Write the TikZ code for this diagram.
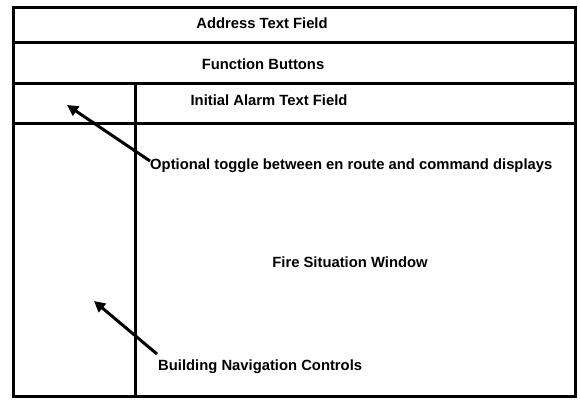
\documentclass[tikz,border=0pt]{standalone}
\usepackage{fontspec}
\setmainfont{Liberation Sans}
\usetikzlibrary{arrows.meta}
\begin{document}
\begin{tikzpicture}[x=1pt,y=-1pt,
  frame/.style={line width=3pt},
  lbl/.style={font=\bfseries\fontsize{14.8}{16}\selectfont, inner sep=0pt},
  pointer/.style={line width=3pt, -{Triangle[length=11pt,width=11pt]}}]
  \useasboundingbox (0,0) rectangle (580,399);
  % screen layout
  \draw[frame] (13,7) rectangle (575,396);
  \draw[frame] (13,42) -- (575,42);
  \draw[frame] (13,83) -- (575,83);
  \draw[frame] (13,123) -- (575,123);
  \draw[frame] (135,83) -- (135,396);
  % field labels
  \node[lbl] (addr) at (262,23) {Address Text Field};
  \node[lbl] (func) at (263,64) {Function Buttons};
  \node[lbl] (alarm) at (269,100) {Initial Alarm Text Field};
  \node[lbl] (fire) at (350,262) {Fire Situation Window};
  % annotations
  \node[lbl, anchor=west] (toggle) at (150,166) {Optional toggle between en route and command displays};
  \node[lbl, anchor=west] (nav) at (158,367) {Building Navigation Controls};
  \coordinate (toggletip) at (67,105);
  \coordinate (navtip) at (94,301);
  \draw[pointer] (toggle.west) ++(0,-5) -- (toggletip);
  \draw[pointer] (nav.west) ++(-1,-13) -- (navtip);
\end{tikzpicture}
\end{document}
